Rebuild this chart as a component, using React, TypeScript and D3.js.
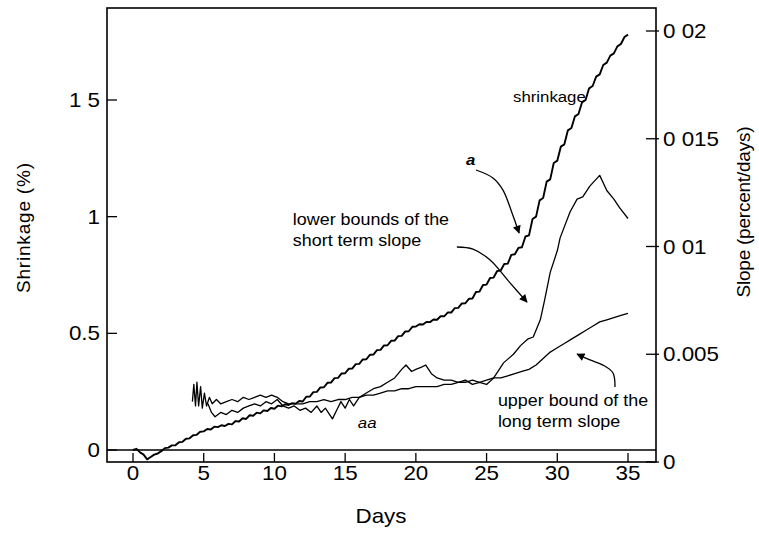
import React from "react";
import * as d3 from "d3";

const W = 759;
const H = 533;
const FONT = "'Liberation Sans', Arial, Helvetica, sans-serif";
// horizontal widening applied to upright text
const SX = 1.12;

// Axis ticks and their printed labels
const dayTicks = [0, 5, 10, 15, 20, 25, 30, 35];
const shrinkTicks = [0, 0.5, 1, 1.5];
const shrinkTickLabels = ["0", "0.5", "1", "1 5"];
const slopeTicks = [0, 0.005, 0.01, 0.015, 0.02];
const slopeTickLabels = ["0", "0.005", "0 01", "0 015", "0 02"];

// Shrinkage (%) sampled every quarter day from day 0 to day 35
const shrinkageStep = 0.25;
const shrinkage = [
  0.0, 0.005, -0.01, -0.02, -0.04, -0.03, -0.02, -0.015, -0.005, 0.008, 0.01, 0.02,
  0.02, 0.033, 0.035, 0.048, 0.05, 0.063, 0.065, 0.078, 0.08, 0.09, 0.088, 0.1,
  0.098, 0.106, 0.103, 0.112, 0.11, 0.124, 0.122, 0.136, 0.133, 0.149, 0.147, 0.16,
  0.157, 0.17, 0.167, 0.18, 0.177, 0.19, 0.187, 0.196, 0.193, 0.201, 0.198, 0.21,
  0.208, 0.228, 0.229, 0.248, 0.249, 0.268, 0.269, 0.288, 0.289, 0.308, 0.309, 0.328,
  0.329, 0.348, 0.349, 0.368, 0.369, 0.388, 0.389, 0.408, 0.409, 0.428, 0.429, 0.448,
  0.449, 0.468, 0.469, 0.488, 0.489, 0.508, 0.509, 0.528, 0.529, 0.539, 0.538, 0.549,
  0.548, 0.559, 0.558, 0.573, 0.573, 0.589, 0.589, 0.608, 0.609, 0.628, 0.629, 0.648,
  0.649, 0.677, 0.679, 0.707, 0.709, 0.737, 0.739, 0.767, 0.769, 0.797, 0.799, 0.836,
  0.839, 0.866, 0.869, 0.915, 0.92, 0.99, 1.0, 1.07, 1.08, 1.15, 1.16, 1.23,
  1.24, 1.3, 1.31, 1.37, 1.38, 1.43, 1.44, 1.49, 1.5, 1.55, 1.56, 1.6,
  1.61, 1.65, 1.66, 1.69, 1.7, 1.73, 1.74, 1.77, 1.78,
];

// Lower bounds of the short term slope (percent/day)
const shortTermSlope: [number, number][] = [
  [5.3, 0.0027], [5.55, 0.0023], [5.8, 0.0021], [6.2, 0.0023], [6.6, 0.0022],
  [7.0, 0.0024], [7.4, 0.0023], [7.8, 0.0025], [8.2, 0.0026], [8.6, 0.0027],
  [9.0, 0.0026], [9.4, 0.0028], [9.8, 0.0027], [10.2, 0.0029], [10.6, 0.0026],
  [11.0, 0.0025], [11.4, 0.0026], [11.8, 0.0024], [12.2, 0.0025], [12.6, 0.0023],
  [13.0, 0.0026], [13.3, 0.0023], [13.6, 0.0025], [14.1, 0.002], [14.4, 0.0024],
  [14.7, 0.0028], [15.0, 0.0025], [15.3, 0.0029], [15.6, 0.0026], [16.0, 0.003],
  [16.5, 0.0032], [17.0, 0.0034], [17.5, 0.0035], [18.0, 0.0037], [18.5, 0.0039],
  [19.0, 0.0043], [19.3, 0.0045], [19.7, 0.0042], [20.0, 0.0043], [20.4, 0.0044],
  [20.7, 0.0045], [21.1, 0.0041], [21.5, 0.0039], [22.0, 0.0038], [22.5, 0.0038],
  [23.0, 0.0037], [23.5, 0.0038], [24.0, 0.0036], [24.5, 0.0037], [25.0, 0.0036],
  [25.5, 0.0039], [25.9, 0.0043], [26.2, 0.0046], [26.9, 0.005], [27.4, 0.0054],
  [27.9, 0.0057], [28.3, 0.0058], [28.8, 0.0066], [29.1, 0.0075], [29.5, 0.0088],
  [30.0, 0.0098], [30.2, 0.0104], [30.9, 0.0116], [31.4, 0.0122], [31.8, 0.0123],
  [32.3, 0.0128], [33.0, 0.0133], [33.5, 0.0126], [34.0, 0.0122], [34.4, 0.0118],
  [35.0, 0.0113],
];

// Upper bound of the long term slope (percent/day)
const longTermSlope: [number, number][] = [
  [4.2, 0.0028], [4.3, 0.0036], [4.42, 0.0026], [4.52, 0.0037], [4.64, 0.0026],
  [4.78, 0.0035], [4.9, 0.0025], [5.05, 0.0032], [5.2, 0.0026], [5.4, 0.003],
  [5.6, 0.0027], [5.9, 0.0029], [6.2, 0.0027], [6.6, 0.0028], [7.0, 0.0029],
  [7.4, 0.0028], [7.8, 0.003], [8.2, 0.0029], [8.6, 0.003], [9.0, 0.0031],
  [9.4, 0.003], [9.8, 0.0031], [10.2, 0.003], [10.6, 0.0028], [11.0, 0.0027],
  [11.5, 0.0027], [12.0, 0.0027], [12.5, 0.0028], [13.0, 0.0028], [13.5, 0.0029],
  [14.0, 0.0028], [14.5, 0.0029], [15.0, 0.0029], [15.5, 0.003], [16.0, 0.003],
  [16.5, 0.0031], [17.0, 0.0031], [17.5, 0.0032], [18.0, 0.0033], [18.5, 0.0033],
  [19.0, 0.0034], [19.5, 0.0034], [20.0, 0.0035], [20.5, 0.0035], [21.0, 0.0035],
  [21.5, 0.0035], [22.0, 0.0036], [22.5, 0.0036], [23.0, 0.0037], [23.5, 0.0037],
  [24.0, 0.0038], [24.5, 0.0037], [25.0, 0.0038], [25.5, 0.0039], [26.0, 0.0039],
  [26.5, 0.004], [27.0, 0.0041], [27.5, 0.0042], [28.0, 0.0043], [28.5, 0.0045],
  [29.0, 0.0048], [29.5, 0.0051], [30.0, 0.0053], [30.5, 0.0055], [31.0, 0.0057],
  [31.5, 0.0059], [32.0, 0.0061], [32.5, 0.0063], [33.0, 0.0065], [33.5, 0.0066],
  [34.0, 0.0067], [34.5, 0.0068], [35.0, 0.0069],
];

// Annotation arrows, in (day, shrinkage) units
const arrowA: [number, number][] = [
  [24.25, 1.2], [25.45, 1.166], [26.16, 1.114], [26.8, 1.016], [27.3, 0.93],
];
const arrowShort: [number, number][] = [
  [22.9, 0.87], [24.04, 0.861], [25.25, 0.814], [26.66, 0.716], [27.86, 0.634],
];
const arrowLong: [number, number][] = [
  [34.08, 0.27], [33.94, 0.33], [33.23, 0.364], [32.31, 0.386], [31.4, 0.411],
];

type TxtProps = {
  x: number;
  y: number;
  size: number;
  anchor?: "start" | "middle" | "end";
  italic?: boolean;
  bold?: boolean;
  children: React.ReactNode;
};

// Upright text, slightly widened
function Txt({ x, y, size, anchor = "start", italic, bold, children }: TxtProps) {
  return (
    <text
      transform={`translate(${x},${y}) scale(${SX},1)`}
      textAnchor={anchor}
      fontSize={size}
      fontStyle={italic ? "italic" : undefined}
      fontWeight={bold ? "bold" : undefined}
    >
      {children}
    </text>
  );
}

export default function App() {
  // Plot frame
  const left = 107;
  const right = 656;
  const top = 8;
  const bottom = 462;

  const x = d3.scaleLinear().domain([0, 35]).range([133, 628]);
  const yShrink = d3.scaleLinear().domain([0, 1.5]).range([450, 100]);
  const ySlope = d3.scaleLinear().domain([0, 0.02]).range([462, 31]);

  const shrinkLine = d3
    .line<number>()
    .x((_, i) => x(i * shrinkageStep))
    .y((d) => yShrink(d))
    .curve(d3.curveLinear);
  const slopeLine = d3
    .line<[number, number]>()
    .x((d) => x(d[0]))
    .y((d) => ySlope(d[1]))
    .curve(d3.curveLinear);
  const arrowLine = d3
    .line<[number, number]>()
    .x((d) => x(d[0]))
    .y((d) => yShrink(d[1]))
    .curve(d3.curveCatmullRom);

  const tickFont = 20;

  return (
    <svg
      width={W}
      height={H}
      viewBox={`0 0 ${W} ${H}`}
      style={{ position: "absolute", left: 0, top: 0, background: "#fff" }}
      fontFamily={FONT}
    >
      <defs>
        <marker
          id="head"
          viewBox="0 0 10 10"
          refX="9"
          refY="5"
          markerWidth="9"
          markerHeight="8"
          markerUnits="userSpaceOnUse"
          orient="auto"
        >
          <path d="M0,0 L10,5 L0,10 z" fill="#000" />
        </marker>
      </defs>

      {/* frame */}
      <rect
        x={left}
        y={top}
        width={right - left}
        height={bottom - top}
        fill="none"
        stroke="#000"
        strokeWidth={1.6}
      />
      {/* zero shrinkage line */}
      <line
        x1={left}
        x2={right}
        y1={yShrink(0)}
        y2={yShrink(0)}
        stroke="#000"
        strokeWidth={1.5}
      />

      {/* x axis */}
      {dayTicks.map((d) => (
        <g key={`x${d}`}>
          <line x1={x(d)} x2={x(d)} y1={bottom} y2={bottom - 9} stroke="#000" strokeWidth={1.3} />
          <Txt x={x(d)} y={480} size={tickFont} anchor="middle">
            {d}
          </Txt>
        </g>
      ))}
      <Txt x={381} y={523} size={20} anchor="middle">
        Days
      </Txt>

      {/* left axis */}
      {shrinkTicks.map((v, i) => (
        <g key={`l${v}`}>
          <line x1={left} x2={left + 10} y1={yShrink(v)} y2={yShrink(v)} stroke="#000" strokeWidth={1.3} />
          <Txt x={100} y={yShrink(v) + 7} size={tickFont} anchor="end">
            {shrinkTickLabels[i]}
          </Txt>
        </g>
      ))}
      <text
        transform={`translate(30,228) rotate(-90)`}
        textAnchor="middle"
        fontSize={19}
        textLength={130}
        lengthAdjust="spacing"
      >
        Shrinkage (%)
      </text>

      {/* right axis */}
      {slopeTicks.map((v, i) => (
        <g key={`r${v}`}>
          <line x1={right - 10} x2={right + 3} y1={ySlope(v)} y2={ySlope(v)} stroke="#000" strokeWidth={1.3} />
          <Txt x={663} y={ySlope(v) + 7} size={tickFont}>
            {slopeTickLabels[i]}
          </Txt>
        </g>
      ))}
      <text
        transform={`translate(750,212) rotate(-90)`}
        textAnchor="middle"
        fontSize={19}
        textLength={171}
        lengthAdjust="spacing"
      >
        Slope (percent/days)
      </text>

      {/* series */}
      <path d={slopeLine(longTermSlope) || ""} fill="none" stroke="#000" strokeWidth={1.3} strokeLinejoin="round" />
      <path d={slopeLine(shortTermSlope) || ""} fill="none" stroke="#000" strokeWidth={1.3} strokeLinejoin="round" />
      <path d={shrinkLine(shrinkage) || ""} fill="none" stroke="#000" strokeWidth={1.9} strokeLinejoin="round" />

      {/* annotations */}
      <path d={arrowLine(arrowA) || ""} fill="none" stroke="#000" strokeWidth={1.3} markerEnd="url(#head)" />
      <path d={arrowLine(arrowShort) || ""} fill="none" stroke="#000" strokeWidth={1.3} markerEnd="url(#head)" />
      <path d={arrowLine(arrowLong) || ""} fill="none" stroke="#000" strokeWidth={1.3} markerEnd="url(#head)" />

      <Txt x={x(26.87)} y={yShrink(1.49)} size={15}>
        shrinkage
      </Txt>
      <Txt x={x(23.55)} y={yShrink(1.22)} size={15} italic bold>
        a
      </Txt>
      <Txt x={x(11.3)} y={yShrink(0.964)} size={16}>
        lower bounds of the
      </Txt>
      <Txt x={x(11.3)} y={yShrink(0.874)} size={16}>
        short term slope
      </Txt>
      <Txt x={x(15.9)} y={yShrink(0.094)} size={15} italic>
        aa
      </Txt>
      <Txt x={x(25.8)} y={yShrink(0.188)} size={16}>
        upper bound of the
      </Txt>
      <Txt x={x(25.8)} y={yShrink(0.098)} size={16}>
        long term slope
      </Txt>
    </svg>
  );
}
